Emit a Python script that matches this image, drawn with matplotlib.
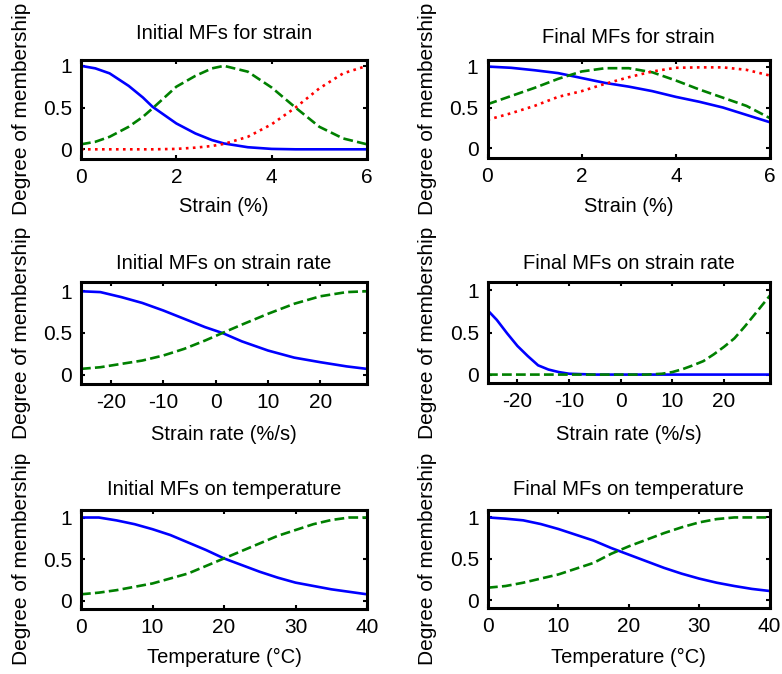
import matplotlib
matplotlib.use("Agg")
import matplotlib.pyplot as plt

plt.rcParams['font.family'] = ['Liberation Sans', 'DejaVu Sans']
plt.rcParams['axes.unicode_minus'] = False

BLUE = '#0000ff'
GREEN = '#008000'
RED = '#ff0000'

# ---- Panel 1: Initial MFs for strain ----
strain_x = [0, 0.3, 0.6, 1.0, 1.3, 1.5, 2.0, 2.4, 2.75, 3.0, 3.5, 4.0, 4.5, 5.0, 5.5, 6.0]
init_strain_low = [1.0, 0.97, 0.91, 0.76, 0.62, 0.51, 0.31, 0.19, 0.11, 0.07, 0.025, 0.005, 0, 0, 0, 0]
init_strain_mid = [0.06, 0.09, 0.15, 0.27, 0.39, 0.49, 0.75, 0.88, 0.97, 1.0, 0.93, 0.74, 0.50, 0.27, 0.13, 0.06]
init_strain_high = [0, 0, 0, 0, 0, 0, 0.005, 0.02, 0.04, 0.065, 0.15, 0.30, 0.50, 0.73, 0.91, 1.0]

# ---- Panel 2: Final MFs for strain ----
strain_x2 = [0, 0.5, 1, 1.5, 2, 2.5, 3, 3.5, 4, 4.5, 5, 5.5, 6]
final_strain_low = [1.0, 0.985, 0.955, 0.92, 0.86, 0.80, 0.755, 0.70, 0.63, 0.57, 0.50, 0.41, 0.32]
final_strain_mid = [0.54, 0.64, 0.74, 0.85, 0.94, 0.98, 0.98, 0.93, 0.83, 0.72, 0.62, 0.52, 0.37]
final_strain_high = [0.35, 0.43, 0.52, 0.63, 0.70, 0.79, 0.87, 0.94, 0.985, 0.99, 0.99, 0.96, 0.89]

# ---- Panel 3: Initial MFs on strain rate ----
rate_x = [-25.7, -22, -18, -14, -10, -6, -2, 1.3, 5, 10, 15, 20, 25, 28.9]
init_rate_low = [1.0, 0.99, 0.93, 0.86, 0.77, 0.67, 0.57, 0.50, 0.40, 0.29, 0.205, 0.15, 0.10, 0.07]
init_rate_high = [0.07, 0.09, 0.13, 0.17, 0.23, 0.31, 0.41, 0.50, 0.60, 0.73, 0.85, 0.94, 0.99, 1.0]

# ---- Panel 4: Final MFs on strain rate ----
rate_x2 = [-25.7, -24, -22, -20, -18, -16, -14, -12, -10, -5, 0, 5, 8, 10, 12, 14, 16, 18, 20, 22, 24, 26, 28.9]
final_rate_low = [0.76, 0.65, 0.49, 0.34, 0.22, 0.11, 0.06, 0.03, 0.01, 0, 0, 0, 0, 0, 0, 0, 0, 0, 0, 0, 0, 0, 0]
final_rate_high = [0, 0, 0, 0, 0, 0, 0, 0, 0, 0, 0, 0, 0.01, 0.03, 0.065, 0.11, 0.16, 0.24, 0.33, 0.43, 0.57, 0.72, 0.94]

# ---- Panel 5: Initial MFs on temperature ----
temp_x = [0, 2.5, 5, 7.5, 10, 12.5, 15, 17.5, 20, 22.5, 25, 27.5, 30, 32.5, 35, 37.5, 40]
init_temp_low = [1.0, 1.0, 0.965, 0.92, 0.86, 0.79, 0.70, 0.61, 0.51, 0.43, 0.35, 0.28, 0.22, 0.18, 0.14, 0.11, 0.08]
init_temp_high = [0.08, 0.10, 0.13, 0.17, 0.21, 0.27, 0.33, 0.42, 0.51, 0.60, 0.69, 0.78, 0.85, 0.92, 0.97, 1.0, 1.0]

# ---- Panel 6: Final MFs on temperature ----
final_temp_low = [1.0, 0.985, 0.965, 0.92, 0.86, 0.79, 0.72, 0.63, 0.55, 0.47, 0.39, 0.32, 0.26, 0.21, 0.17, 0.135, 0.11]
final_temp_high = [0.15, 0.17, 0.21, 0.26, 0.31, 0.38, 0.45, 0.56, 0.65, 0.73, 0.81, 0.88, 0.94, 0.98, 1.0, 1.0, 1.0]

titles = ['Initial MFs for strain', 'Final MFs for strain',
          'Initial MFs on strain rate', 'Final MFs on strain rate',
          'Initial MFs on temperature', 'Final MFs on temperature']
xlabels = ['Strain (%)', 'Strain (%)', 'Strain rate (%/s)', 'Strain rate (%/s)',
           'Temperature (°C)', 'Temperature (°C)']
ylabel = 'Degree of membership'
strain_ticks = [0, 2, 4, 6]
rate_ticks = [-20, -10, 0, 10, 20]
temp_ticks = [0, 10, 20, 30, 40]
y_ticks = [0, 0.5, 1]
y_ticklabels = ['0', '0.5', '1']

W, H = 782, 674
fig = plt.figure(figsize=(W / 100, H / 100), dpi=100)

# axes rectangles in pixels: left, top, right, bottom
rects = [(81, 60, 367, 158.5), (487.5, 60, 770, 157.5),
         (81, 282.5, 367, 383.5), (488, 282, 770, 383),
         (81, 510, 367, 608.5), (488, 510, 769.5, 607.5)]
ylims = [(-0.11, 1.07), (-0.11, 1.08), (-0.105, 1.105), (-0.1, 1.1), (-0.09, 1.09), (-0.09, 1.09)]
title_base = [39.3, 43.3, 269.3, 269.3, 495, 495]
xlabel_top = [197, 197, 425, 425, 648, 648]
ylabel_right = [31, 437, 31, 437, 31, 437]

axes = []
for i, (l, t, r, b) in enumerate(rects):
    ax = fig.add_axes([l / W, (H - b) / H, (r - l) / W, (b - t) / H])
    axes.append(ax)

def style(i, ax, xlim, xticks):
    l, t, r, b = rects[i]
    ax.set_xlim(*xlim)
    ax.set_ylim(*ylims[i])
    ax.set_xticks(xticks)
    ax.set_yticks(y_ticks)
    ax.set_yticklabels(y_ticklabels)
    ax.tick_params(direction='in', top=True, right=True, length=3, width=1.5,
                   labelsize=15, pad=6.5)
    for s in ax.spines.values():
        s.set_linewidth(2.2)
    ax.set_title(titles[i], fontsize=14.5, pad=(t - title_base[i]) * 0.72)
    ax.set_xlabel(xlabels[i], fontsize=14.5)
    ax.xaxis.set_label_coords(0.5, -(xlabel_top[i] - b) / (b - t))
    ax.set_ylabel(ylabel, fontsize=15)
    ax.yaxis.set_label_coords(-(l - ylabel_right[i]) / (r - l), 0.5)

lw = 1.9
ax = axes[0]
ax.plot(strain_x, init_strain_low, '-', color=BLUE, lw=lw)
ax.plot(strain_x, init_strain_mid, '--', color=GREEN, lw=lw)
ax.plot(strain_x, init_strain_high, ':', color=RED, lw=lw)
style(0, ax, (0, 6), strain_ticks)

ax = axes[1]
ax.plot(strain_x2, final_strain_low, '-', color=BLUE, lw=lw)
ax.plot(strain_x2, final_strain_mid, '--', color=GREEN, lw=lw)
ax.plot(strain_x2, final_strain_high, ':', color=RED, lw=lw)
style(1, ax, (0, 6), strain_ticks)

ax = axes[2]
ax.plot(rate_x, init_rate_low, '-', color=BLUE, lw=lw)
ax.plot(rate_x, init_rate_high, '--', color=GREEN, lw=lw)
style(2, ax, (rate_x[0], rate_x[-1]), rate_ticks)

ax = axes[3]
ax.plot(rate_x2, final_rate_low, '-', color=BLUE, lw=lw)
ax.plot(rate_x2, final_rate_high, '--', color=GREEN, lw=lw)
style(3, ax, (rate_x2[0], rate_x2[-1]), rate_ticks)

ax = axes[4]
ax.plot(temp_x, init_temp_low, '-', color=BLUE, lw=lw)
ax.plot(temp_x, init_temp_high, '--', color=GREEN, lw=lw)
style(4, ax, (0, 40), temp_ticks)

ax = axes[5]
ax.plot(temp_x, final_temp_low, '-', color=BLUE, lw=lw)
ax.plot(temp_x, final_temp_high, '--', color=GREEN, lw=lw)
style(5, ax, (0, 40), temp_ticks)

fig.savefig('out.png', dpi=100)
